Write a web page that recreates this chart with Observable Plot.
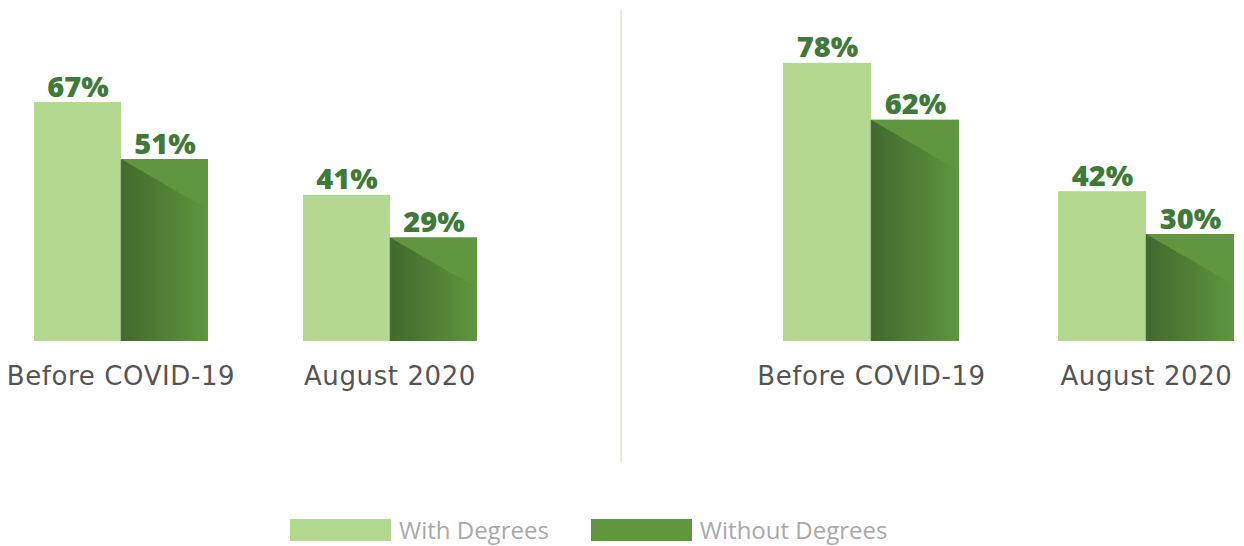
<!DOCTYPE html>
<html>
<head>
<meta charset="utf-8">
<script src="https://cdn.jsdelivr.net/npm/d3@7"></script>
<script src="https://cdn.jsdelivr.net/npm/@observablehq/plot@0.6"></script>
<style>
  html, body { margin: 0; padding: 0; background: #fff; }
  #wrap { position: relative; width: 1244px; height: 546px; overflow: hidden; }
  #row { display: flex; width: 1244px; height: 462px; }
  #divider { width: 2px; margin-top: 10px; height: 452px; background: #e9e9df; }
  #legend { position: absolute; left: 290px; top: 519px; display: flex; align-items: center;
            font-family: "Open Sans", sans-serif; font-size: 24px; line-height: 22px; color: #a9a9a9; }
  .sw { width: 101px; height: 22px; margin-right: 8px; }
  .item { display: flex; align-items: center; margin-right: 42px; height: 22px; }
  svg [aria-label^="fx-axis"] text { letter-spacing: 0.6px; }
</style>
</head>
<body>
<div id="wrap">
  <div id="row">
    <div id="left"></div>
    <div id="divider"></div>
    <div id="right"></div>
  </div>
  <div id="legend"></div>
</div>
<script>
// ---- data ----
const categories = ["Before COVID-19", "August 2020"];
const seriesNames = ["With Degrees", "Without Degrees"];
const leftWith = [67, 41];
const leftWithout = [51, 29];
const rightWith = [78, 42];
const rightWithout = [62, 30];
const seriesColors = ["#b3d88f", "#5f963f"];
const darkGradient = ["#41692d", "#5f963f"];
const labelColor = "#3f7a38";

function rows(withVals, withoutVals) {
  const out = [];
  categories.forEach((c, i) => {
    out.push({category: c, series: seriesNames[0], value: withVals[i]});
    out.push({category: c, series: seriesNames[1], value: withoutVals[i]});
  });
  return out;
}

function makePanel(data, id, width, marginLeft, marginRight, paddingInner) {
  const gradId = "grad-" + id;
  const gradUrl = `url(#${gradId})`;
  const svg = Plot.plot({
    width, height: 462,
    marginLeft, marginRight, marginTop: 20, marginBottom: 121,
    style: {fontFamily: "DejaVu Sans, sans-serif", fontSize: "26px", color: "#555555", background: "transparent"},
    fx: {domain: categories, paddingInner, paddingOuter: 0, axis: "bottom", tickSize: 0, tickPadding: 25, label: null},
    x: {domain: seriesNames, padding: 0, axis: null},
    y: {domain: [0, 90], axis: null},
    marks: [
      Plot.barY(data.filter(d => d.series === seriesNames[0]), {
        fx: "category", x: "series", y: "value", fill: seriesColors[0]
      }),
      Plot.barY(data.filter(d => d.series === seriesNames[1]), {
        fx: "category", x: "series", y: "value", fill: gradUrl
      }),
      Plot.text(data, {
        fx: "category", x: "series", y: "value", text: d => d.value + "%",
        lineAnchor: "bottom", dy: -6, fill: labelColor, fontSize: 29, fontWeight: 800,
        fontFamily: "Open Sans, sans-serif"
      })
    ]
  });
  const s = d3.select(svg);
  const defs = s.insert("defs", ":first-child");
  const g = defs.append("linearGradient").attr("id", gradId)
    .attr("x1", "0").attr("y1", "0").attr("x2", "1").attr("y2", "0");
  g.append("stop").attr("offset", "0").attr("stop-color", darkGradient[0]);
  g.append("stop").attr("offset", "1").attr("stop-color", darkGradient[1]);

  // top highlight triangle + thin left shadow on the dark bars Plot rendered
  const darkRects = s.selectAll("rect").filter(function() {
    const own = this.getAttribute("fill");
    const anc = this.parentNode && this.parentNode.closest ? this.parentNode.closest("[fill]") : null;
    const f = own || (anc ? anc.getAttribute("fill") : null);
    return f === gradUrl;
  }).nodes();
  darkRects.forEach(node => {
    const x = +node.getAttribute("x"), y = +node.getAttribute("y");
    const w = +node.getAttribute("width"), h = +node.getAttribute("height");
    const parent = d3.select(node.parentNode);
    parent.append("polygon")
      .attr("points", `${x},${y} ${x + w},${y} ${x + w},${y + w * 0.58}`)
      .attr("fill", darkGradient[1]);
    parent.append("rect")
      .attr("x", x - 1).attr("y", y).attr("width", 1.2).attr("height", h)
      .attr("fill", "#8f9d86").attr("opacity", 0.55);
  });
  return svg;
}

document.getElementById("left").appendChild(
  makePanel(rows(leftWith, leftWithout), "l", 620, 32, 143, 0.35));
document.getElementById("right").appendChild(
  makePanel(rows(rightWith, rightWithout), "r", 622, 161, 10, 0.36));

// legend
const legend = d3.select("#legend");
seriesNames.forEach((name, i) => {
  const it = legend.append("div").attr("class", "item");
  it.append("div").attr("class", "sw").style("background", seriesColors[i]);
  it.append("span").text(name);
});
</script>
</body>
</html>
